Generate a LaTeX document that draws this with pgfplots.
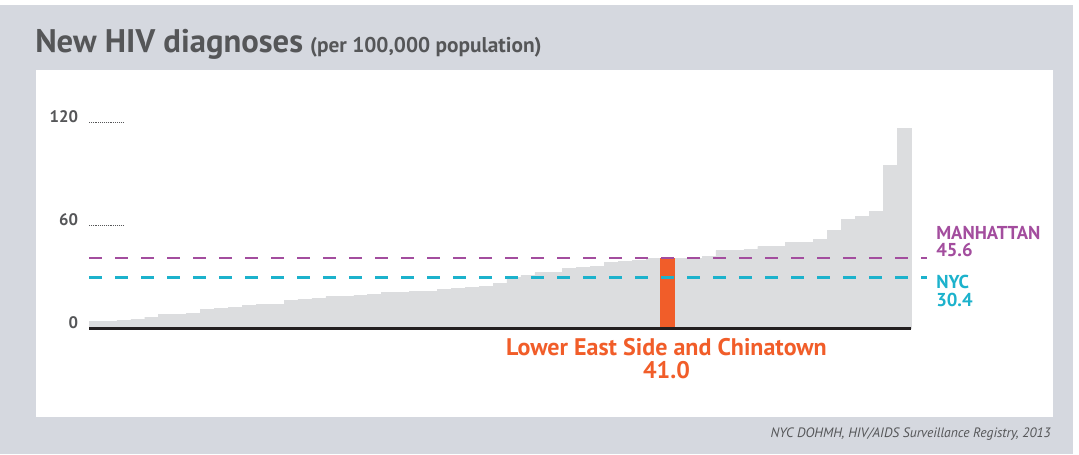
\documentclass[border=0pt]{standalone}
\usepackage{fontspec}
\setmainfont{PT Sans}
\usepackage{pgfplots}
\pgfplotsset{compat=1.18}
\definecolor{bggray}{RGB}{213,216,223}
\definecolor{bargray}{RGB}{220,221,223}
\definecolor{txtgray}{RGB}{85,86,88}
\definecolor{lesorange}{RGB}{241,93,41}
\definecolor{manpurple}{RGB}{163,77,158}
\definecolor{nyccyan}{RGB}{28,178,204}
\definecolor{baseblack}{RGB}{35,31,32}
\begin{document}
\begin{tikzpicture}[x=0.75pt,y=-0.75pt]
\fill[white] (0,0) rectangle (1079,454);
\fill[bggray] (0,5) rectangle (1073,454);
\fill[white] (36,70) rectangle (1053,417);
\coordinate (axorig) at (89,328.5);
\node[anchor=base west, inner sep=0pt, text=txtgray, font=\bfseries\fontsize{24.5}{24.5}\selectfont] at (35,52.5) {New HIV diagnoses\hspace{-1pt} {\fontsize{16}{16}\selectfont (per 100,000 population)}};
\begin{axis}[at={(axorig)}, anchor=south west, scale only axis,
  width=616.5pt, height=154.5pt,
  xmin=-0.5, xmax=58.5, ymin=0, ymax=120, clip=false,
  axis line style={draw=none}, xtick=\empty,
  ytick={60,120}, ytick pos=left, tick align=inside, major tick length=26pt,
  y tick style={txtgray, line width=0.6pt, dash pattern=on 0.6pt off 0.8pt},
  extra y ticks={0}, extra y tick style={major tick length=0pt},
  yticklabel style={anchor=base east, inner sep=0pt, xshift=-8pt, text=txtgray, font=\bfseries\fontsize{12.5}{12.5}\selectfont},
  /pgf/number format/assume math mode=true]
\addplot[ybar, bar width=1, bar shift=0pt, fill=bargray, draw=bargray, line width=0.3pt] coordinates {
(0,4.1) (1,4.1) (2,4.8) (3,5.4) (4,6.6) (5,8.3) (6,8.3) (7,8.9) (8,11.0) (9,11.6)
(10,12.4) (11,13.4) (12,14.2) (13,14.2) (14,16.3) (15,16.9) (16,17.5) (17,18.6) (18,18.6) (19,19.2)
(20,19.8) (21,21.0) (22,21.0) (23,21.5) (24,21.5) (25,22.7) (26,23.3) (27,23.9) (28,24.5) (29,26.3)
(30,29.6) (31,31.0) (32,32.6) (33,32.6) (34,34.9) (35,35.6) (36,36.2) (37,38.4) (38,39.0) (39,39.9)
(40,40.8) (42,41.0) (43,41.0) (44,42.0) (45,45.4) (46,45.4) (47,46.0) (48,47.8) (49,47.8)
(50,50.1) (51,50.1) (52,51.8) (53,57.1) (54,63.5) (55,65.2) (56,68.1) (57,94.9) (58,116.5)
};
\addplot[ybar, bar width=1, bar shift=0pt, fill=lesorange, draw=lesorange, line width=0.3pt] coordinates {(41,41.0)};
\addplot[baseblack, line width=2pt] coordinates {(-0.5,0) (58.5,0)};
\addplot[manpurple, line width=1.8pt, dash pattern=on 9.75pt off 9.75pt] coordinates {(-0.5,41.0) (59.65,41.0)};
\addplot[nyccyan, line width=1.8pt, dash pattern=on 9.75pt off 9.75pt] coordinates {(-0.5,29.8) (59.65,29.8)};
\end{axis}
\node[anchor=base west, inner sep=0pt, text=manpurple, font=\bfseries\fontsize{14}{14}\selectfont] at (936,239.3) {MANHATTAN};
\node[anchor=base west, inner sep=0pt, text=manpurple, font=\bfseries\fontsize{14}{14}\selectfont] at (936,256.7) {45.6};
\node[anchor=base west, inner sep=0pt, text=nyccyan, font=\bfseries\fontsize{14}{14}\selectfont] at (936,288.7) {NYC};
\node[anchor=base west, inner sep=0pt, text=nyccyan, font=\bfseries\fontsize{14}{14}\selectfont] at (936,306) {30.4};
\node[anchor=base, inner sep=0pt, text=lesorange, font=\bfseries\fontsize{18}{18}\selectfont] at (666.5,355.5) {Lower East Side and Chinatown};
\node[anchor=base, inner sep=0pt, text=lesorange, font=\bfseries\fontsize{18}{18}\selectfont] at (666.5,378.5) {41.0};
\node[anchor=base east, inner sep=0pt, text=txtgray, font=\itshape\fontsize{10.2}{10.2}\selectfont] at (1051,437) {NYC DOHMH, HIV/AIDS Surveillance Registry, 2013};
\end{tikzpicture}
\end{document}
